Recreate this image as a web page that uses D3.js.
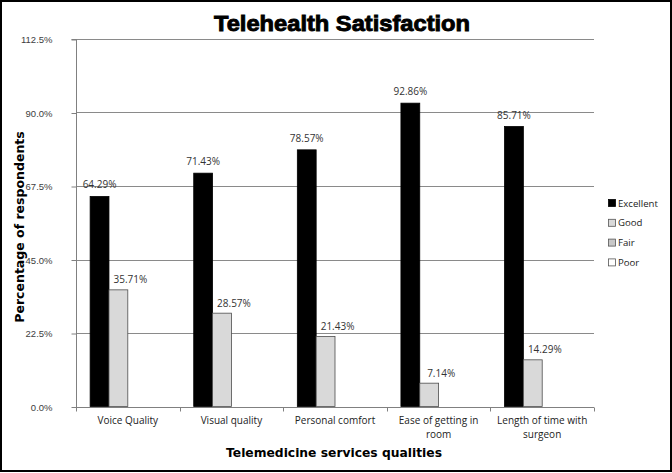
<!DOCTYPE html>
<html><head><meta charset="utf-8">
<script src="https://cdn.jsdelivr.net/npm/d3@7"></script>
<style>body{margin:0;background:#fff}svg{display:block}</style>
</head><body><svg id="c" width="672" height="473"></svg>
<script>
const categories = ["Voice Quality","Visual quality","Personal comfort","Ease of getting in room","Length of time with surgeon"];
const categoryLines = [["Voice Quality"],["Visual quality"],["Personal comfort"],["Ease of getting in","room"],["Length of time with","surgeon"]];
const seriesNames = ["Excellent","Good","Fair","Poor"];
const excellent = [64.29,71.43,78.57,92.86,85.71];
const good = [35.71,28.57,21.43,7.14,14.29];
const fair = [0,0,0,0,0];
const poor = [0,0,0,0,0];
const yTicks = [0,22.5,45,67.5,90,112.5];
const seriesColors = ["#000000","#d9d9d9","#c8c8c8","#ffffff"];

const series = [excellent, good, fair, poor];
const svg = d3.select("#c");
const L = 76, R = 594, T = 39, B = 406.5;
const x = d3.scaleBand().domain(categories).range([L, R]).paddingInner(0).paddingOuter(0);
const bw = x.bandwidth()/5.5;
const xs = d3.scaleBand().domain(seriesNames).range([0.75*bw, 4.75*bw]);
const y = d3.scaleLinear().domain([0,112.5]).range([B, T]);

svg.append("rect").attr("x",1).attr("y",1).attr("width",670).attr("height",470)
  .attr("fill","#fff").attr("stroke","#000").attr("stroke-width",2);

svg.append("text").attr("x",342).attr("y",31).attr("text-anchor","middle")
  .attr("font-family","Liberation Sans, Arial, sans-serif").attr("font-weight","bold")
  .attr("font-size",22).attr("textLength",256).attr("lengthAdjust","spacingAndGlyphs")
  .attr("stroke","#000").attr("stroke-width",0.9).text("Telehealth Satisfaction");

// gridlines
svg.append("g").selectAll("line").data(yTicks.filter(d=>d>0)).join("line")
  .attr("x1",L).attr("x2",R).attr("y1",d=>Math.round(y(d))+0.5).attr("y2",d=>Math.round(y(d))+0.5)
  .attr("stroke","#8a8a8a").attr("stroke-width",1);

// y axis
const yAxis = svg.append("g").attr("transform",`translate(${L+0.5},0.5)`)
  .call(d3.axisLeft(y).tickValues(yTicks).tickSize(5).tickPadding(19).tickFormat(d=>d.toFixed(1)+"%"));
yAxis.select(".domain").attr("stroke","#808080").attr("d",`M-5,${Math.round(y(112.5))}H0V${Math.round(B)}`);
yAxis.selectAll(".tick line").attr("stroke","#808080");
yAxis.selectAll(".tick text").attr("font-family","Liberation Sans Narrow, Liberation Sans, Arial, sans-serif")
  .attr("font-size",9.5).attr("fill","#404040");

// x axis
const xAxis = svg.append("g").attr("transform",`translate(0,${Math.round(B)+0.5})`);
xAxis.append("line").attr("x1",L).attr("x2",R).attr("stroke","#808080");
xAxis.selectAll("line.tk").data(d3.range(categories.length+1)).join("line").attr("class","tk")
  .attr("x1",i=>Math.round(L+i*x.bandwidth())+0.5).attr("x2",i=>Math.round(L+i*x.bandwidth())+0.5)
  .attr("y1",0).attr("y2",4).attr("stroke","#808080");
categories.forEach((c,i)=>{
  const t = svg.append("text").attr("text-anchor","middle")
    .attr("font-family","Open Sans, sans-serif").attr("font-size",10).attr("fill","#222");
  categoryLines[i].forEach((ln,j)=>{
    t.append("tspan").attr("x",x(c)+x.bandwidth()/2).attr("y",424+j*13.5).text(ln);
  });
});

// bars
series.forEach((vals,si)=>{
  svg.append("g").selectAll("rect").data(vals.map((v,i)=>({v,c:categories[i]}))).join("rect")
    .filter(d=>d.v>0)
    .attr("x",d=>x(d.c)+xs(seriesNames[si])).attr("width",xs.bandwidth())
    .attr("y",d=>y(d.v)).attr("height",d=>y(0)-y(d.v))
    .attr("fill",seriesColors[si]).attr("stroke",si===0?"#000":"#4d4d4d").attr("stroke-width",0.8);
});

// data labels
svg.append("g").selectAll("text").data(excellent.map((v,i)=>({v,c:categories[i]}))).join("text")
  .attr("x",d=>x(d.c)+xs("Excellent")+xs.bandwidth()/2).attr("y",d=>y(d.v)-8)
  .attr("text-anchor","middle").attr("font-family","Open Sans, sans-serif").attr("font-size",10)
  .attr("fill","#333").text(d=>d.v.toFixed(2)+"%");
svg.append("g").selectAll("text").data(good.map((v,i)=>({v,c:categories[i]}))).join("text")
  .attr("x",d=>x(d.c)+xs("Good")+xs.bandwidth()/2+12).attr("y",d=>y(d.v)-6.5)
  .attr("text-anchor","middle").attr("font-family","Open Sans, sans-serif").attr("font-size",10)
  .attr("fill","#333").text(d=>d.v.toFixed(2)+"%");

// axis titles
svg.append("text").attr("x",334).attr("y",457).attr("text-anchor","middle")
  .attr("font-family","DejaVu Sans, sans-serif").attr("font-weight","bold").attr("font-size",12.3)
  .attr("fill","#000").text("Telemedicine services qualities");
svg.append("text").attr("transform","translate(24,227) rotate(-90)").attr("text-anchor","middle")
  .attr("font-family","DejaVu Sans, sans-serif").attr("font-weight","bold").attr("font-size",12.5)
  .attr("fill","#000").text("Percentage of respondents");

// legend
const lg = svg.append("g").selectAll("g").data(seriesNames).join("g")
  .attr("transform",(d,i)=>`translate(608,${203+i*19.8})`);
lg.append("rect").attr("x",0.5).attr("y",-3.5).attr("width",7).attr("height",7)
  .attr("fill",(d,i)=>seriesColors[i]).attr("stroke",(d,i)=>i===0?"#000":"#555").attr("stroke-width",0.8);
lg.append("text").attr("x",10).attr("y",3.5).attr("font-family","Open Sans, sans-serif")
  .attr("font-size",9.6).attr("fill","#222").text(d=>d);
</script></body></html>
